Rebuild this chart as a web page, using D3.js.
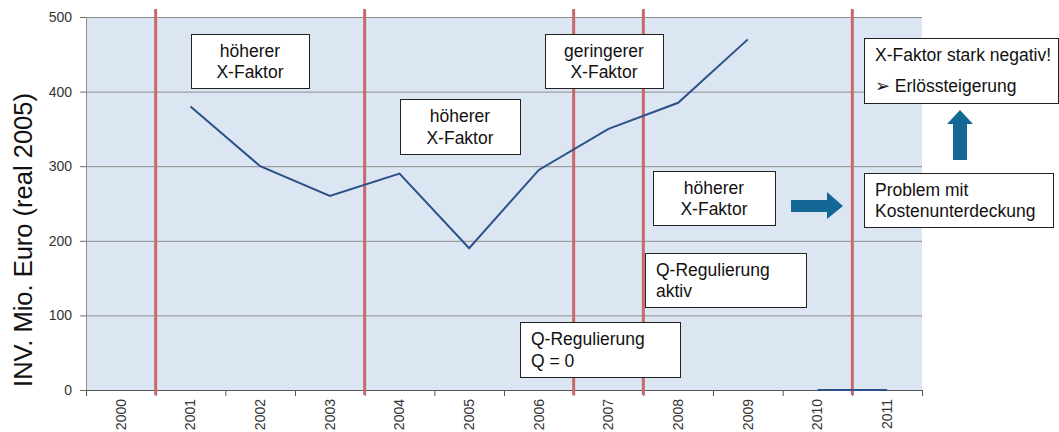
<!DOCTYPE html>
<html>
<head>
<meta charset="utf-8">
<script src="https://cdn.jsdelivr.net/npm/d3@7"></script>
<style>
  body { margin: 0; background: #fff; }
  text { font-family: "Liberation Sans", Arial, sans-serif; }
</style>
</head>
<body>
<svg id="chart"></svg>
<script>
const years = ["2000","2001","2002","2003","2004","2005","2006","2007","2008","2009","2010","2011"];
// investment series
const investYears = ["2001","2002","2003","2004","2005","2006","2007","2008","2009"];
const investValues = [380, 300, 260, 290, 190, 295, 350, 385, 470];
const laterYears = ["2010","2011"];
const laterValues = [0, 0];
const yTicks = [0, 100, 200, 300, 400, 500];
// red lines sit at the left edge of these years
const breakYears = ["2001","2004","2007","2008","2011"];

const W = 1059, H = 432;
const margin = {top: 17, right: 137, bottom: 42, left: 86};
const width = W - margin.left - margin.right;
const height = H - margin.top - margin.bottom;

const svg = d3.select("#chart").attr("width", W).attr("height", H);
const g = svg.append("g").attr("transform", "translate(" + margin.left + "," + margin.top + ")");

const x = d3.scaleBand().domain(years).range([0, width]).padding(0);
const xEdge = d3.scaleLinear().domain([0, years.length]).range([0, width]);
const y = d3.scaleLinear().domain([0, 500]).range([height, 0]);

// plot background
g.append("rect").attr("width", width).attr("height", height).attr("fill", "#dce6f2");

// grid
g.append("g")
  .call(d3.axisLeft(y).tickValues(yTicks.slice(1)).tickSize(-width).tickFormat(""))
  .call(s => s.select(".domain").remove())
  .selectAll("line").attr("stroke", "#8c8c8c").attr("stroke-width", 1);

// y axis
const yAxis = g.append("g")
  .call(d3.axisLeft(y).tickValues(yTicks).tickSize(6).tickSizeOuter(0).tickPadding(8));
yAxis.select(".domain").attr("stroke", "#8c8c8c");
yAxis.selectAll("line").attr("stroke", "#666");
yAxis.selectAll("text").attr("font-size", 14).attr("fill", "#333")
  .style("font-family", "'Liberation Sans', Arial, sans-serif");

// x axis tick marks at band edges
const xAxisG = g.append("g").attr("transform", "translate(0," + height + ")")
  .call(d3.axisBottom(xEdge).tickValues(d3.range(years.length + 1)).tickSize(6).tickSizeOuter(0).tickFormat(""));
xAxisG.select(".domain").attr("stroke", "#555");
xAxisG.selectAll("line").attr("stroke", "#555");

// x labels at band centers
const xLab = g.append("g").attr("transform", "translate(0," + height + ")")
  .call(d3.axisBottom(x).tickSize(0));
xLab.select(".domain").remove();
xLab.selectAll("text")
  .attr("transform", "rotate(-90)")
  .attr("x", -9).attr("y", 0).attr("dy", "0.35em")
  .attr("text-anchor", "end")
  .attr("font-size", 14).attr("fill", "#333")
  .style("font-family", "'Liberation Sans', Arial, sans-serif");

// red break lines
g.selectAll(".brk").data(breakYears).enter().append("line")
  .attr("x1", d => x(d)).attr("x2", d => x(d))
  .attr("y1", -8).attr("y2", height + 5)
  .attr("stroke", "#c9686b").attr("stroke-width", 3);

// series lines
const line = d3.line()
  .x(d => x(d[0]) + x.bandwidth() / 2)
  .y(d => y(d[1]));
g.append("path").datum(d3.zip(investYears, investValues))
  .attr("d", line).attr("fill", "none").attr("stroke", "#2c5189").attr("stroke-width", 2);
g.append("path").datum(d3.zip(laterYears, laterValues))
  .attr("d", line).attr("fill", "none").attr("stroke", "#2c5189").attr("stroke-width", 2);

// y axis title
svg.append("text")
  .attr("transform", "translate(32," + 240 + ") rotate(-90)")
  .attr("text-anchor", "middle")
  .attr("font-size", 25.5).attr("fill", "#111")
  .text("INV. Mio. Euro (real 2005)");

// annotation boxes
const boxes = [
  {x: 191, y: 34, w: 118, h: 54, lines: ["höherer", "X-Faktor"], align: "middle"},
  {x: 400, y: 99, w: 120, h: 55, lines: ["höherer", "X-Faktor"], align: "middle"},
  {x: 545, y: 34, w: 118, h: 54, lines: ["geringerer", "X-Faktor"], align: "middle"},
  {x: 653, y: 171, w: 122, h: 54, lines: ["höherer", "X-Faktor"], align: "middle"},
  {x: 645, y: 253, w: 161, h: 54, lines: ["Q-Regulierung", "aktiv"], align: "start"},
  {x: 520, y: 322, w: 160, h: 55, lines: ["Q-Regulierung", "Q = 0"], align: "start"},
  {x: 864, y: 38, w: 194, h: 65, lines: ["X-Faktor stark negativ!", "\u27A2 Erlössteigerung"], align: "start", gap: 31},
  {x: 864, y: 173, w: 189, h: 54, lines: ["Problem mit", "Kostenunterdeckung"], align: "start"}
];
const bg = svg.append("g");
boxes.forEach(b => {
  bg.append("rect").attr("x", b.x + 0.5).attr("y", b.y + 0.5).attr("width", b.w).attr("height", b.h)
    .attr("fill", "#fff").attr("stroke", "#222").attr("stroke-width", 1);
  const gap = b.gap || 21.5;
  const t0 = b.y + b.h / 2 - gap / 2 + 6.3;
  b.lines.forEach((l, i) => {
    bg.append("text")
      .attr("x", b.align === "middle" ? b.x + b.w / 2 : b.x + 11)
      .attr("y", t0 + i * gap)
      .attr("text-anchor", b.align)
      .attr("font-size", 17.5).attr("fill", "#111")
      .text(l);
  });
});

// arrows
const arrowColor = "#146895";
svg.append("path")
  .attr("d", "M791,200 L827,200 L827,192 L843,206 L827,219 L827,212 L791,212 Z")
  .attr("fill", arrowColor);
svg.append("path")
  .attr("d", "M953,160 L953,124 L947,124 L960,110 L973,124 L967,124 L967,160 Z")
  .attr("fill", arrowColor);
</script>
</body>
</html>
